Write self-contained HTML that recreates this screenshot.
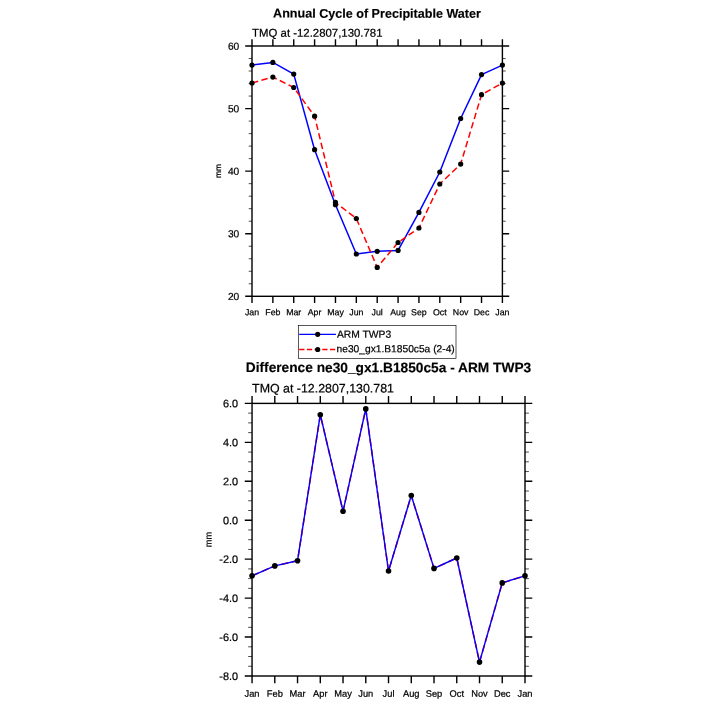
<!DOCTYPE html>
<html lang="en"><head><meta charset="utf-8"><title>Annual Cycle of Precipitable Water</title>
<style>html,body{margin:0;padding:0;background:#fff}body{width:725px;height:725px;overflow:hidden}</style></head>
<body>
<svg width="725" height="725" viewBox="0 0 725 725" style="display:block" font-family="Liberation Sans, Arial, Helvetica, sans-serif" fill="#000">
<rect width="725" height="725" fill="#fff"/>
<g id="plot1">
<polyline points="252.00,65.10 272.87,62.40 293.73,74.10 314.60,149.70 335.47,204.70 356.33,254.00 377.20,251.30 398.07,250.40 418.93,212.40 439.80,172.00 460.67,118.50 481.53,74.60 502.40,65.10" fill="none" stroke="#0000ff" stroke-width="1.5" stroke-linejoin="round"/>
<polyline points="252.00,83.00 272.87,77.10 293.73,87.50 314.60,116.20 335.47,202.40 356.33,218.50 377.20,267.40 398.07,242.50 418.93,228.00 439.80,184.00 460.67,164.10 481.53,94.70 502.40,83.00" fill="none" stroke="#ff0000" stroke-width="1.5" stroke-dasharray="6.4 3.4" stroke-linejoin="round"/>
<circle cx="252.00" cy="65.10" r="2.6" fill="#000"/>
<circle cx="272.87" cy="62.40" r="2.6" fill="#000"/>
<circle cx="293.73" cy="74.10" r="2.6" fill="#000"/>
<circle cx="314.60" cy="149.70" r="2.6" fill="#000"/>
<circle cx="335.47" cy="204.70" r="2.6" fill="#000"/>
<circle cx="356.33" cy="254.00" r="2.6" fill="#000"/>
<circle cx="377.20" cy="251.30" r="2.6" fill="#000"/>
<circle cx="398.07" cy="250.40" r="2.6" fill="#000"/>
<circle cx="418.93" cy="212.40" r="2.6" fill="#000"/>
<circle cx="439.80" cy="172.00" r="2.6" fill="#000"/>
<circle cx="460.67" cy="118.50" r="2.6" fill="#000"/>
<circle cx="481.53" cy="74.60" r="2.6" fill="#000"/>
<circle cx="502.40" cy="65.10" r="2.6" fill="#000"/>
<circle cx="252.00" cy="83.00" r="2.6" fill="#000"/>
<circle cx="272.87" cy="77.10" r="2.6" fill="#000"/>
<circle cx="293.73" cy="87.50" r="2.6" fill="#000"/>
<circle cx="314.60" cy="116.20" r="2.6" fill="#000"/>
<circle cx="335.47" cy="202.40" r="2.6" fill="#000"/>
<circle cx="356.33" cy="218.50" r="2.6" fill="#000"/>
<circle cx="377.20" cy="267.40" r="2.6" fill="#000"/>
<circle cx="398.07" cy="242.50" r="2.6" fill="#000"/>
<circle cx="418.93" cy="228.00" r="2.6" fill="#000"/>
<circle cx="439.80" cy="184.00" r="2.6" fill="#000"/>
<circle cx="460.67" cy="164.10" r="2.6" fill="#000"/>
<circle cx="481.53" cy="94.70" r="2.6" fill="#000"/>
<circle cx="502.40" cy="83.00" r="2.6" fill="#000"/>
<rect x="252.0" y="46.0" width="250.40" height="250.30" fill="none" stroke="#000" stroke-width="1.4"/>
<path d="M252.00 46.0 v-6.8 M252.00 296.3 v6.8 M272.87 46.0 v-6.8 M272.87 296.3 v6.8 M293.73 46.0 v-6.8 M293.73 296.3 v6.8 M314.60 46.0 v-6.8 M314.60 296.3 v6.8 M335.47 46.0 v-6.8 M335.47 296.3 v6.8 M356.33 46.0 v-6.8 M356.33 296.3 v6.8 M377.20 46.0 v-6.8 M377.20 296.3 v6.8 M398.07 46.0 v-6.8 M398.07 296.3 v6.8 M418.93 46.0 v-6.8 M418.93 296.3 v6.8 M439.80 46.0 v-6.8 M439.80 296.3 v6.8 M460.67 46.0 v-6.8 M460.67 296.3 v6.8 M481.53 46.0 v-6.8 M481.53 296.3 v6.8 M502.40 46.0 v-6.8 M502.40 296.3 v6.8 M252.0 46.00 h-6.8 M502.4 46.00 h6.8 M252.0 108.58 h-6.8 M502.4 108.58 h6.8 M252.0 171.15 h-6.8 M502.4 171.15 h6.8 M252.0 233.73 h-6.8 M502.4 233.73 h6.8 M252.0 296.30 h-6.8 M502.4 296.30 h6.8" stroke="#000" stroke-width="1.4" fill="none"/>
<path d="M252.0 58.52 h-3.3 M502.4 58.52 h3.3 M252.0 71.03 h-3.3 M502.4 71.03 h3.3 M252.0 83.55 h-3.3 M502.4 83.55 h3.3 M252.0 96.06 h-3.3 M502.4 96.06 h3.3 M252.0 121.09 h-3.3 M502.4 121.09 h3.3 M252.0 133.61 h-3.3 M502.4 133.61 h3.3 M252.0 146.12 h-3.3 M502.4 146.12 h3.3 M252.0 158.64 h-3.3 M502.4 158.64 h3.3 M252.0 183.67 h-3.3 M502.4 183.67 h3.3 M252.0 196.18 h-3.3 M502.4 196.18 h3.3 M252.0 208.69 h-3.3 M502.4 208.69 h3.3 M252.0 221.21 h-3.3 M502.4 221.21 h3.3 M252.0 246.24 h-3.3 M502.4 246.24 h3.3 M252.0 258.75 h-3.3 M502.4 258.75 h3.3 M252.0 271.27 h-3.3 M502.4 271.27 h3.3 M252.0 283.78 h-3.3 M502.4 283.78 h3.3" stroke="#000" stroke-width="0.7" fill="none"/>
<text x="239.3" y="49.65" font-size="10.2" text-anchor="end" stroke="#000" stroke-width="0.22" transform="rotate(0.05 239.3 49.65)">60</text>
<text x="239.3" y="112.23" font-size="10.2" text-anchor="end" stroke="#000" stroke-width="0.22" transform="rotate(0.05 239.3 112.23)">50</text>
<text x="239.3" y="174.8" font-size="10.2" text-anchor="end" stroke="#000" stroke-width="0.22" transform="rotate(0.05 239.3 174.8)">40</text>
<text x="239.3" y="237.38" font-size="10.2" text-anchor="end" stroke="#000" stroke-width="0.22" transform="rotate(0.05 239.3 237.38)">30</text>
<text x="239.3" y="299.95" font-size="10.2" text-anchor="end" stroke="#000" stroke-width="0.22" transform="rotate(0.05 239.3 299.95)">20</text>
<text x="252.0" y="315.3" font-size="8.8" text-anchor="middle" stroke="#000" stroke-width="0.22" transform="rotate(0.05 252.0 315.3)">Jan</text>
<text x="272.87" y="315.3" font-size="8.8" text-anchor="middle" stroke="#000" stroke-width="0.22" transform="rotate(0.05 272.87 315.3)">Feb</text>
<text x="293.73" y="315.3" font-size="8.8" text-anchor="middle" stroke="#000" stroke-width="0.22" transform="rotate(0.05 293.73 315.3)">Mar</text>
<text x="314.6" y="315.3" font-size="8.8" text-anchor="middle" stroke="#000" stroke-width="0.22" transform="rotate(0.05 314.6 315.3)">Apr</text>
<text x="335.47" y="315.3" font-size="8.8" text-anchor="middle" stroke="#000" stroke-width="0.22" transform="rotate(0.05 335.47 315.3)">May</text>
<text x="356.33" y="315.3" font-size="8.8" text-anchor="middle" stroke="#000" stroke-width="0.22" transform="rotate(0.05 356.33 315.3)">Jun</text>
<text x="377.2" y="315.3" font-size="8.8" text-anchor="middle" stroke="#000" stroke-width="0.22" transform="rotate(0.05 377.2 315.3)">Jul</text>
<text x="398.07" y="315.3" font-size="8.8" text-anchor="middle" stroke="#000" stroke-width="0.22" transform="rotate(0.05 398.07 315.3)">Aug</text>
<text x="418.93" y="315.3" font-size="8.8" text-anchor="middle" stroke="#000" stroke-width="0.22" transform="rotate(0.05 418.93 315.3)">Sep</text>
<text x="439.8" y="315.3" font-size="8.8" text-anchor="middle" stroke="#000" stroke-width="0.22" transform="rotate(0.05 439.8 315.3)">Oct</text>
<text x="460.67" y="315.3" font-size="8.8" text-anchor="middle" stroke="#000" stroke-width="0.22" transform="rotate(0.05 460.67 315.3)">Nov</text>
<text x="481.53" y="315.3" font-size="8.8" text-anchor="middle" stroke="#000" stroke-width="0.22" transform="rotate(0.05 481.53 315.3)">Dec</text>
<text x="502.4" y="315.3" font-size="8.8" text-anchor="middle" stroke="#000" stroke-width="0.22" transform="rotate(0.05 502.4 315.3)">Jan</text>
<text transform="translate(221.0 171.1) rotate(-89.95)" font-size="8.4" text-anchor="middle" stroke="#000" stroke-width="0.22">mm</text>
<text x="252.1" y="36.65" font-size="11.4" stroke="#000" stroke-width="0.22" transform="rotate(0.05 252.1 36.65)">TMQ at -12.2807,130.781</text>
<text x="377.0" y="17.7" font-size="12.58" text-anchor="middle" font-weight="bold" stroke="#000" stroke-width="0.15" transform="rotate(0.05 377.0 17.7)">Annual Cycle of Precipitable Water</text>
</g>
<g id="legend">
<rect x="298.5" y="325.5" width="157.5" height="32.95" fill="#fff" stroke="#000" stroke-width="0.65"/>
<path d="M299.2 334.3 H335.9" stroke="#0000ff" stroke-width="1.3"/>
<path d="M299.2 349.5 H335.9" stroke="#ff0000" stroke-width="1.3" stroke-dasharray="5.2 2.5"/>
<circle cx="317.7" cy="334.3" r="2.6"/><circle cx="317.7" cy="349.5" r="2.6"/>
<text x="337.0" y="337.75" font-size="10.3" stroke="#000" stroke-width="0.22" transform="rotate(0.05 337.0 337.75)">ARM TWP3</text>
<text x="336.55" y="352.2" font-size="10.23" stroke="#000" stroke-width="0.22" transform="rotate(0.05 336.55 352.2)">ne30_gx1.B1850c5a (2-4)</text>
</g>
<g id="plot2">
<polyline points="252.05,575.80 274.80,565.90 297.54,560.70 320.29,414.70 343.03,511.30 365.78,408.90 388.52,571.00 411.27,495.50 434.02,568.40 456.76,558.00 479.51,662.10 502.25,582.90 525.00,575.80" fill="none" stroke="#ff0000" stroke-width="1.55" stroke-dasharray="7 3.5" stroke-linejoin="round"/>
<polyline points="252.05,575.80 274.80,565.90 297.54,560.70 320.29,414.70 343.03,511.30 365.78,408.90 388.52,571.00 411.27,495.50 434.02,568.40 456.76,558.00 479.51,662.10 502.25,582.90 525.00,575.80" fill="none" stroke="#0000ff" stroke-width="1.4" stroke-linejoin="round"/>
<circle cx="252.05" cy="575.80" r="2.8" fill="#000"/>
<circle cx="274.80" cy="565.90" r="2.8" fill="#000"/>
<circle cx="297.54" cy="560.70" r="2.8" fill="#000"/>
<circle cx="320.29" cy="414.70" r="2.8" fill="#000"/>
<circle cx="343.03" cy="511.30" r="2.8" fill="#000"/>
<circle cx="365.78" cy="408.90" r="2.8" fill="#000"/>
<circle cx="388.52" cy="571.00" r="2.8" fill="#000"/>
<circle cx="411.27" cy="495.50" r="2.8" fill="#000"/>
<circle cx="434.02" cy="568.40" r="2.8" fill="#000"/>
<circle cx="456.76" cy="558.00" r="2.8" fill="#000"/>
<circle cx="479.51" cy="662.10" r="2.8" fill="#000"/>
<circle cx="502.25" cy="582.90" r="2.8" fill="#000"/>
<circle cx="525.00" cy="575.80" r="2.8" fill="#000"/>
<rect x="252.05" y="403.4" width="272.95" height="272.60" fill="none" stroke="#000" stroke-width="1.4"/>
<path d="M252.05 403.4 v-7.3 M252.05 676.0 v7.3 M274.80 403.4 v-7.3 M274.80 676.0 v7.3 M297.54 403.4 v-7.3 M297.54 676.0 v7.3 M320.29 403.4 v-7.3 M320.29 676.0 v7.3 M343.03 403.4 v-7.3 M343.03 676.0 v7.3 M365.78 403.4 v-7.3 M365.78 676.0 v7.3 M388.52 403.4 v-7.3 M388.52 676.0 v7.3 M411.27 403.4 v-7.3 M411.27 676.0 v7.3 M434.02 403.4 v-7.3 M434.02 676.0 v7.3 M456.76 403.4 v-7.3 M456.76 676.0 v7.3 M479.51 403.4 v-7.3 M479.51 676.0 v7.3 M502.25 403.4 v-7.3 M502.25 676.0 v7.3 M525.00 403.4 v-7.3 M525.00 676.0 v7.3 M252.05 403.40 h-7.3 M525.0 403.40 h7.3 M252.05 442.34 h-7.3 M525.0 442.34 h7.3 M252.05 481.29 h-7.3 M525.0 481.29 h7.3 M252.05 520.23 h-7.3 M525.0 520.23 h7.3 M252.05 559.17 h-7.3 M525.0 559.17 h7.3 M252.05 598.11 h-7.3 M525.0 598.11 h7.3 M252.05 637.06 h-7.3 M525.0 637.06 h7.3 M252.05 676.00 h-7.3 M525.0 676.00 h7.3" stroke="#000" stroke-width="1.4" fill="none"/>
<path d="M252.05 413.14 h-3.9 M525.0 413.14 h3.9 M252.05 422.87 h-3.9 M525.0 422.87 h3.9 M252.05 432.61 h-3.9 M525.0 432.61 h3.9 M252.05 452.08 h-3.9 M525.0 452.08 h3.9 M252.05 461.81 h-3.9 M525.0 461.81 h3.9 M252.05 471.55 h-3.9 M525.0 471.55 h3.9 M252.05 491.02 h-3.9 M525.0 491.02 h3.9 M252.05 500.76 h-3.9 M525.0 500.76 h3.9 M252.05 510.49 h-3.9 M525.0 510.49 h3.9 M252.05 529.96 h-3.9 M525.0 529.96 h3.9 M252.05 539.70 h-3.9 M525.0 539.70 h3.9 M252.05 549.44 h-3.9 M525.0 549.44 h3.9 M252.05 568.91 h-3.9 M525.0 568.91 h3.9 M252.05 578.64 h-3.9 M525.0 578.64 h3.9 M252.05 588.38 h-3.9 M525.0 588.38 h3.9 M252.05 607.85 h-3.9 M525.0 607.85 h3.9 M252.05 617.59 h-3.9 M525.0 617.59 h3.9 M252.05 627.32 h-3.9 M525.0 627.32 h3.9 M252.05 646.79 h-3.9 M525.0 646.79 h3.9 M252.05 656.53 h-3.9 M525.0 656.53 h3.9 M252.05 666.26 h-3.9 M525.0 666.26 h3.9" stroke="#000" stroke-width="0.7" fill="none"/>
<text x="238.1" y="407.35" font-size="10.9" text-anchor="end" stroke="#000" stroke-width="0.22" transform="rotate(0.05 238.1 407.35)">6.0</text>
<text x="238.1" y="446.29" font-size="10.9" text-anchor="end" stroke="#000" stroke-width="0.22" transform="rotate(0.05 238.1 446.29)">4.0</text>
<text x="238.1" y="485.24" font-size="10.9" text-anchor="end" stroke="#000" stroke-width="0.22" transform="rotate(0.05 238.1 485.24)">2.0</text>
<text x="238.1" y="524.18" font-size="10.9" text-anchor="end" stroke="#000" stroke-width="0.22" transform="rotate(0.05 238.1 524.18)">0.0</text>
<text x="238.1" y="563.12" font-size="10.9" text-anchor="end" stroke="#000" stroke-width="0.22" transform="rotate(0.05 238.1 563.12)">-2.0</text>
<text x="238.1" y="602.06" font-size="10.9" text-anchor="end" stroke="#000" stroke-width="0.22" transform="rotate(0.05 238.1 602.06)">-4.0</text>
<text x="238.1" y="641.01" font-size="10.9" text-anchor="end" stroke="#000" stroke-width="0.22" transform="rotate(0.05 238.1 641.01)">-6.0</text>
<text x="238.1" y="679.95" font-size="10.9" text-anchor="end" stroke="#000" stroke-width="0.22" transform="rotate(0.05 238.1 679.95)">-8.0</text>
<text x="252.05" y="696.7" font-size="9.3" text-anchor="middle" stroke="#000" stroke-width="0.22" transform="rotate(0.05 252.05 696.7)">Jan</text>
<text x="274.8" y="696.7" font-size="9.3" text-anchor="middle" stroke="#000" stroke-width="0.22" transform="rotate(0.05 274.8 696.7)">Feb</text>
<text x="297.54" y="696.7" font-size="9.3" text-anchor="middle" stroke="#000" stroke-width="0.22" transform="rotate(0.05 297.54 696.7)">Mar</text>
<text x="320.29" y="696.7" font-size="9.3" text-anchor="middle" stroke="#000" stroke-width="0.22" transform="rotate(0.05 320.29 696.7)">Apr</text>
<text x="343.03" y="696.7" font-size="9.3" text-anchor="middle" stroke="#000" stroke-width="0.22" transform="rotate(0.05 343.03 696.7)">May</text>
<text x="365.78" y="696.7" font-size="9.3" text-anchor="middle" stroke="#000" stroke-width="0.22" transform="rotate(0.05 365.78 696.7)">Jun</text>
<text x="388.52" y="696.7" font-size="9.3" text-anchor="middle" stroke="#000" stroke-width="0.22" transform="rotate(0.05 388.52 696.7)">Jul</text>
<text x="411.27" y="696.7" font-size="9.3" text-anchor="middle" stroke="#000" stroke-width="0.22" transform="rotate(0.05 411.27 696.7)">Aug</text>
<text x="434.02" y="696.7" font-size="9.3" text-anchor="middle" stroke="#000" stroke-width="0.22" transform="rotate(0.05 434.02 696.7)">Sep</text>
<text x="456.76" y="696.7" font-size="9.3" text-anchor="middle" stroke="#000" stroke-width="0.22" transform="rotate(0.05 456.76 696.7)">Oct</text>
<text x="479.51" y="696.7" font-size="9.3" text-anchor="middle" stroke="#000" stroke-width="0.22" transform="rotate(0.05 479.51 696.7)">Nov</text>
<text x="502.25" y="696.7" font-size="9.3" text-anchor="middle" stroke="#000" stroke-width="0.22" transform="rotate(0.05 502.25 696.7)">Dec</text>
<text x="525.0" y="696.7" font-size="9.3" text-anchor="middle" stroke="#000" stroke-width="0.22" transform="rotate(0.05 525.0 696.7)">Jan</text>
<text transform="translate(211.6 539.6) rotate(-89.95)" font-size="9.1" text-anchor="middle" stroke="#000" stroke-width="0.22">mm</text>
<text x="252.1" y="392.5" font-size="12.4" stroke="#000" stroke-width="0.22" transform="rotate(0.05 252.1 392.5)">TMQ at -12.2807,130.781</text>
<text x="388.5" y="372.2" font-size="13.72" text-anchor="middle" font-weight="bold" stroke="#000" stroke-width="0.15" transform="rotate(0.05 388.5 372.2)">Difference ne30_gx1.B1850c5a - ARM TWP3</text>
</g>
</svg>
</body></html>
